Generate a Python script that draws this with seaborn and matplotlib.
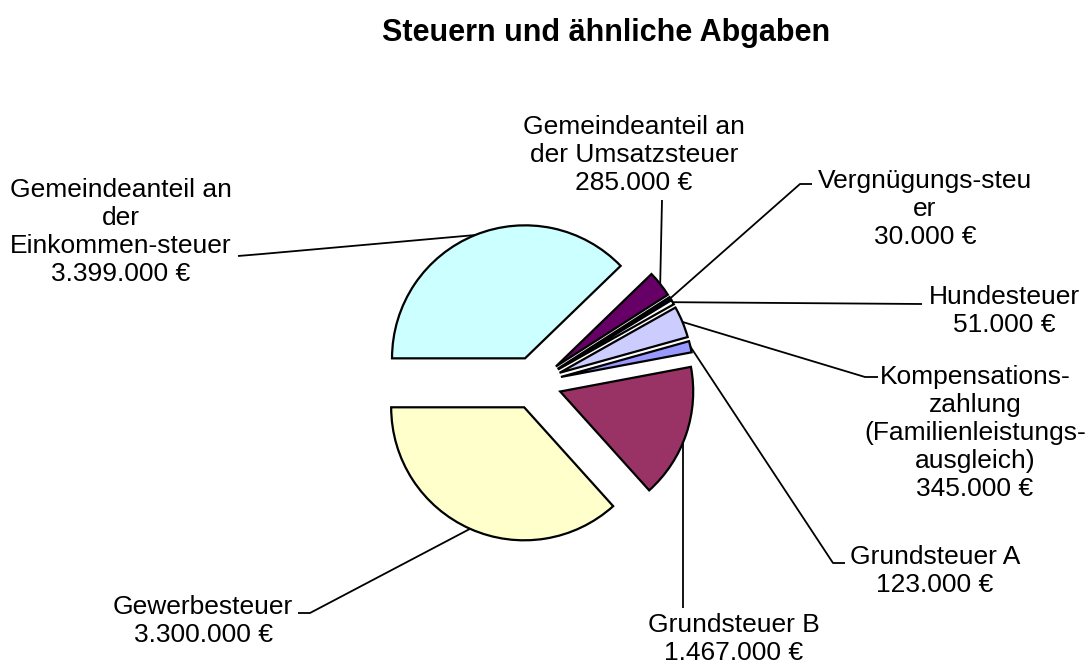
import numpy as np
import matplotlib
matplotlib.use("Agg")
import matplotlib.pyplot as plt
import seaborn as sns

# ---- data ----
categories = [
    "Gemeindeanteil an\nder\nEinkommen-steuer",
    "Gemeindeanteil an\nder Umsatzsteuer",
    "Vergnügungs-steu\ner",
    "Hundesteuer",
    "Kompensations-\nzahlung\n(Familienleistungs-\nausgleich)",
    "Grundsteuer A",
    "Grundsteuer B",
    "Gewerbesteuer",
]
values = [3399000, 285000, 30000, 51000, 345000, 123000, 1467000, 3300000]
value_labels = ["3.399.000 €", "285.000 €", "30.000 €", "51.000 €",
                "345.000 €", "123.000 €", "1.467.000 €", "3.300.000 €"]
colors = ["#CCFFFF", "#660066", "#000080", "#FFFFFF",
          "#CCCCFF", "#9999FF", "#993366", "#FFFFCC"]
title = "Steuern und ähnliche Abgaben"

# ---- layout (pixel coordinates, y down) ----
W, H = 1092, 664
pie_center = (535, 383)
pie_radius = 133
explode_frac = 0.2
label_pos = [(121, 232), (634, 155), (925, 209), (1004, 311),
             (975, 433), (935, 571), (734, 639), (203, 621)]
leader_pts = [
    [(262, 254), (238, 256)],
    [(662, 200)],
    [(800, 184), (812, 184)],
    [(922, 304)],
    [(865, 377), (878, 377)],
    [(833, 563), (845, 563)],
    [(683, 608)],
    [(310, 613), (298, 613)],
]

sns.set_theme(style="white")
plt.rcParams["font.family"] = ["Liberation Sans", "DejaVu Sans"]

fig = plt.figure(figsize=(W / 100, H / 100), dpi=100)
ax = fig.add_axes([0, 0, 1, 1])

wedges, _ = ax.pie(
    values,
    colors=colors,
    startangle=180,
    counterclock=True,
    radius=pie_radius,
    center=pie_center,
    explode=[explode_frac * pie_radius] * len(values),
    wedgeprops=dict(edgecolor="black", linewidth=1.6, zorder=3),
    frame=False,
)
ax.set_xlim(0, W)
ax.set_ylim(H, 0)
ax.set_aspect("equal")
ax.axis("off")

for i, (w, cat, val, pos, pts) in enumerate(zip(wedges, categories, value_labels, label_pos, leader_pts)):
    mid = np.deg2rad((w.theta1 + w.theta2) / 2)
    cx, cy = w.center
    if i == 6:
        # vertical leader meeting the arc
        x0 = pts[0][0]
        dx = (x0 - cx) / w.r
        ang = np.arccos(np.clip(dx, -1, 1))
        anchor = (x0, cy + w.r * np.sin(ang))
    else:
        anchor = (cx + w.r * np.cos(mid), cy + w.r * np.sin(mid))
    xs = [anchor[0]] + [p[0] for p in pts]
    ys = [anchor[1]] + [p[1] for p in pts]
    ax.plot(xs, ys, color="black", lw=1.3, zorder=2, solid_capstyle="butt")
    ax.text(pos[0], pos[1], f"{cat}\n{val}", ha="center", va="center",
            fontsize=19, color="black", linespacing=1.2)

fig.text(606 / W, 1 - 33 / H, title, ha="center", va="center",
         fontsize=22, fontweight="bold", color="black")

fig.savefig("out.png", dpi=100, facecolor="white")
